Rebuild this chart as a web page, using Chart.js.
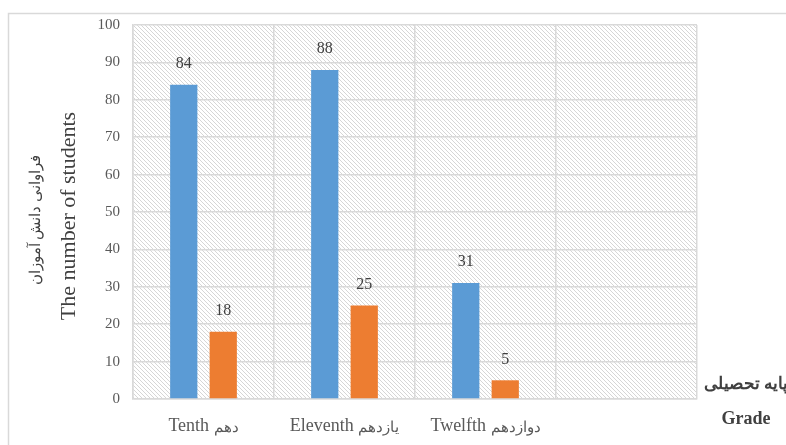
<!DOCTYPE html>
<html>
<head>
<meta charset="utf-8">
<script src="https://cdn.jsdelivr.net/npm/chart.js@4"></script>
<style>
  html, body { margin: 0; padding: 0; background: #fff; }
  #wrap { width: 786px; height: 445px; position: relative; }
</style>
</head>
<body>
<div id="wrap"><canvas id="c" width="786" height="445"></canvas></div>
<script>
// Grade levels (English name + Persian name) and student counts
const gradesEn = ['Tenth', 'Eleventh', 'Twelfth', ''];
const gradesFa = ['دهم', 'یازدهم', 'دوازدهم', ''];
const seriesA = [84, 88, 31, null];
const seriesB = [18, 25, 5, null];
const yTicks = [0, 10, 20, 30, 40, 50, 60, 70, 80, 90, 100];

const SERIF = '"Liberation Serif", "Times New Roman", serif';
const GRID = '#d9d9d9';

// diagonal hatch used to fill the plot area
function makeHatch() {
  const t = document.createElement('canvas');
  t.width = 4; t.height = 4;
  const g = t.getContext('2d');
  g.strokeStyle = '#d6d6d6';
  g.lineWidth = 1;
  g.beginPath();
  g.moveTo(-1, -1); g.lineTo(5, 5);
  g.moveTo(-1, 3); g.lineTo(1, 5);
  g.moveTo(3, -1); g.lineTo(5, 1);
  g.stroke();
  return g.createPattern(t, 'repeat');
}

const decor = {
  id: 'decor',
  beforeDraw(chart) {
    const ctx = chart.ctx;
    const a = chart.chartArea;
    ctx.save();
    // outer frame of the chart box
    ctx.strokeStyle = '#d9d9d9';
    ctx.lineWidth = 1.5;
    ctx.beginPath();
    ctx.moveTo(8.5, 450); ctx.lineTo(8.5, 13.5); ctx.lineTo(800, 13.5);
    ctx.stroke();
    // hatched plot background
    ctx.fillStyle = makeHatch();
    ctx.fillRect(a.left, a.top, a.right - a.left, a.bottom - a.top);
    ctx.restore();
  },
  afterDraw(chart) {
    const ctx = chart.ctx;
    const x = chart.scales.x;
    ctx.save();
    // category labels: English word then Persian word
    ctx.textBaseline = 'middle';
    gradesEn.forEach((en, i) => {
      if (!en) return;
      const cx = x.getPixelForValue(i);
      ctx.font = '18px ' + SERIF;
      const wEn = ctx.measureText(en + ' ').width;
      ctx.font = '15px ' + SERIF;
      const wFa = ctx.measureText(gradesFa[i]).width;
      const start = cx - (wEn + wFa) / 2;
      ctx.fillStyle = '#595959';
      ctx.textAlign = 'left';
      ctx.font = '18px ' + SERIF;
      ctx.fillText(en, start, 426);
      ctx.font = '15px ' + SERIF;
      ctx.fillText(gradesFa[i], start + wEn, 428);
    });
    // value labels above bars
    ctx.font = '16px ' + SERIF;
    ctx.fillStyle = '#404040';
    ctx.textAlign = 'center';
    chart.data.datasets.forEach((ds, di) => {
      const meta = chart.getDatasetMeta(di);
      meta.data.forEach((bar, i) => {
        const v = ds.data[i];
        if (v == null) return;
        ctx.fillText(String(v), bar.x, bar.y - 21);
      });
    });
    // axis titles
    ctx.fillStyle = '#404040';
    ctx.save();
    ctx.translate(69, 216);
    ctx.rotate(-Math.PI / 2);
    ctx.font = '22px ' + SERIF;
    ctx.textAlign = 'center';
    ctx.fillText('The number of students', 0, 0);
    ctx.restore();
    ctx.save();
    ctx.translate(36, 220);
    ctx.rotate(-Math.PI / 2);
    ctx.font = '15px ' + SERIF;
    ctx.textAlign = 'center';
    ctx.fillText('فراوانی دانش آموزان', 0, 0);
    ctx.restore();
    ctx.fillStyle = '#404040';
    ctx.textAlign = 'left';
    ctx.font = 'bold 17px ' + SERIF;
    ctx.fillText('پایه تحصیلی', 704, 385);
    ctx.textAlign = 'center';
    ctx.font = 'bold 18px ' + SERIF;
    ctx.fillText('Grade', 746, 419);
    ctx.restore();
  }
};

new Chart(document.getElementById('c'), {
  type: 'bar',
  data: {
    labels: gradesEn,
    datasets: [
      { data: seriesA, backgroundColor: '#5b9bd5' },
      { data: seriesB, backgroundColor: '#ed7d31' }
    ]
  },
  options: {
    responsive: false,
    animation: false,
    events: [],
    layout: { padding: { top: 25, right: 89, left: 0, bottom: 0 } },
    plugins: { legend: { display: false }, tooltip: { enabled: false } },
    datasets: { bar: { categoryPercentage: 0.56, barPercentage: 0.69 } },
    scales: {
      x: {
        grid: { color: GRID, lineWidth: 1.5, offset: true, drawTicks: false },
        border: { color: GRID, width: 1.5 },
        ticks: { display: false },
        afterFit(s) { s.height = 46; }
      },
      y: {
        min: 0, max: 100,
        afterBuildTicks(s) { s.ticks = yTicks.map(v => ({ value: v })); },
        grid: { color: GRID, lineWidth: 1.5, drawTicks: false },
        border: { color: GRID, width: 1.5 },
        ticks: {
          color: '#595959',
          font: { family: SERIF, size: 15 },
          padding: 13
        },
        afterFit(s) { s.width = 133; }
      }
    }
  },
  plugins: [decor]
});
</script>
</body>
</html>
